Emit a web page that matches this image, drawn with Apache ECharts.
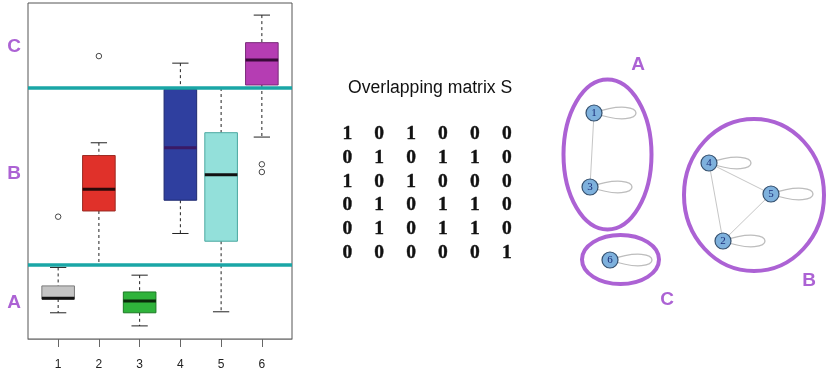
<!DOCTYPE html>
<html>
<head>
<meta charset="utf-8">
<script src="https://cdn.jsdelivr.net/npm/echarts@6/dist/echarts.min.js"></script>
<style>html,body{margin:0;padding:0;background:#fff}#c{width:826px;height:378px}</style>
</head>
<body>
<div id="c"></div>
<script>
// ---- Boxplot panel data ----
const boxCats = [1, 2, 3, 4, 5, 6];
const whiskerLow  = [7.8, 22.0, 3.9, 31.4, 8.1, 60.1];
const q1Vals      = [11.9, 38.1, 7.8, 41.3, 29.1, 75.6];
const medianVals  = [12.1, 44.6, 11.3, 56.9, 48.9, 83.0];
const q3Vals      = [15.8, 54.6, 14.0, 74.3, 61.4, 88.2];
const whiskerHigh = [21.3, 58.4, 19.0, 82.1, 74.7, 96.4];
const outlierCat  = [1, 2, 6, 6];
const outlierVal  = [36.4, 84.2, 52.0, 49.7];
const groupCuts   = [74.7, 22.0];
const groupNames  = ['A', 'B', 'C'];
const groupLabelY = [10.7, 49.1, 86.9];
const xTickLabels = ['1', '2', '3', '4', '5', '6'];

// ---- Overlapping matrix ----
const matrixTitle = 'Overlapping matrix S';
const matrixS = [
  [1, 0, 1, 0, 0, 0],
  [0, 1, 0, 1, 1, 0],
  [1, 0, 1, 0, 0, 0],
  [0, 1, 0, 1, 1, 0],
  [0, 1, 0, 1, 1, 0],
  [0, 0, 0, 0, 0, 1]
];

// ---- Network panel (layout positions of nodes) ----
const nodeNames = ['1', '2', '3', '4', '5', '6'];
const nodeX = [594, 723, 590, 709, 771, 610];
const nodeY = [113, 241, 187, 163, 194, 260];
const clusterNames = ['A', 'B', 'C'];
const clusterCx = [607.5, 754, 620.5];
const clusterCy = [154.5, 195, 259.5];
const clusterRx = [44, 70, 38.5];
const clusterRy = [75, 76, 24.5];
const clusterLabelX = [638, 809, 667];
const clusterLabelY = [65, 281, 300];

// ---- styles ----
const boxFill   = ['#c4c4c4', '#e0312a', '#2fb33b', '#2f3f9f', '#93e0da', '#b53db3'];
const boxBorder = ['#7a7a7a', '#9a2a22', '#1b7a24', '#1f2a70', '#4aa8a0', '#7a2a7a'];
const medianColor = ['#111', '#2a0a0a', '#0a2a0a', '#3a1a66', '#111', '#3a0a3a'];
const purple = '#ac62d4';
const teal = '#1aa6a6';

const boxData = boxCats.map((c, i) => [c, whiskerLow[i], q1Vals[i], medianVals[i], q3Vals[i], whiskerHigh[i]]);
const outData = outlierCat.map((c, i) => [c, outlierVal[i]]);
const matData = [];
matrixS.forEach((row, r) => row.forEach((v, c) => matData.push([c, r, v])));

const links = [];
const loops = [];
matrixS.forEach((row, r) => row.forEach((v, c) => {
  if (!v) return;
  if (r === c) loops.push([nodeX[r], nodeY[r]]);
  else if (c > r) links.push({ source: r, target: c });
}));
const nodes = nodeNames.map((n, i) => ({ name: n, value: [nodeX[i], nodeY[i]] }));
const ellData = clusterCx.map((x, i) => [x, clusterCy[i], clusterRx[i], clusterRy[i]]);
const cLabData = clusterNames.map((n, i) => ({ name: n, value: [clusterLabelX[i], clusterLabelY[i]] }));

function renderBox(params, api) {
  const x = api.value(0);
  const lo = api.coord([x, api.value(1)]);
  const q1 = api.coord([x, api.value(2)]);
  const md = api.coord([x, api.value(3)]);
  const q3 = api.coord([x, api.value(4)]);
  const hi = api.coord([x, api.value(5)]);
  const hw = api.size([0.8, 0])[0] / 2;
  const cx = lo[0];
  const i = params.dataIndex;
  const dash = { stroke: '#222', lineWidth: 1, lineDash: [3, 3] };
  const solid = { stroke: '#222', lineWidth: 1 };
  return {
    type: 'group',
    children: [
      { type: 'line', shape: { x1: cx, y1: hi[1], x2: cx, y2: q3[1] }, style: dash },
      { type: 'line', shape: { x1: cx, y1: q1[1], x2: cx, y2: lo[1] }, style: dash },
      { type: 'line', shape: { x1: cx - hw / 2, y1: hi[1], x2: cx + hw / 2, y2: hi[1] }, style: solid },
      { type: 'line', shape: { x1: cx - hw / 2, y1: lo[1], x2: cx + hw / 2, y2: lo[1] }, style: solid },
      { type: 'rect', shape: { x: cx - hw, y: q3[1], width: 2 * hw, height: q1[1] - q3[1] },
        style: { fill: boxFill[i], stroke: boxBorder[i], lineWidth: 1 } },
      { type: 'line', shape: { x1: cx - hw, y1: md[1], x2: cx + hw, y2: md[1] },
        style: { stroke: medianColor[i], lineWidth: 3 } }
    ]
  };
}

function renderEllipse(params, api) {
  const c = api.coord([api.value(0), api.value(1)]);
  const s = api.size([api.value(2), api.value(3)]);
  return { type: 'ellipse', shape: { cx: c[0], cy: c[1], rx: s[0], ry: s[1] },
    style: { fill: 'none', stroke: purple, lineWidth: 4 } };
}

function renderLoop(params, api) {
  const p = api.coord([api.value(0), api.value(1)]);
  const s = api.size([56, 20]);
  return { type: 'bezierCurve',
    shape: { x1: p[0], y1: p[1], x2: p[0], y2: p[1],
      cpx1: p[0] + s[0], cpy1: p[1] - s[1], cpx2: p[0] + s[0], cpy2: p[1] + s[1] },
    style: { fill: 'none', stroke: '#bdbdbd', lineWidth: 1.3 } };
}

function renderCell(params, api) {
  const p = api.coord([api.value(0), api.value(1)]);
  return { type: 'text', x: p[0], y: p[1] + 1,
    style: { text: String(api.value(2)), x: 0, y: 0, align: 'center', verticalAlign: 'middle',
      fontFamily: 'Liberation Serif', fontWeight: 'bold', fontSize: 19.5,
      fill: '#111', stroke: '#111', lineWidth: 0.4 } };
}

const chart = echarts.init(document.getElementById('c'), null, { renderer: 'canvas' });
chart.setOption({
  animation: false,
  backgroundColor: '#fff',
  title: { text: matrixTitle, left: 343, top: 74,
    textStyle: { fontSize: 17.6, fontWeight: 'normal', color: '#111', fontFamily: 'Liberation Sans' } },
  grid: [
    { left: 28, top: 3, width: 264, height: 336, show: true, borderColor: '#555', borderWidth: 1, backgroundColor: 'transparent' },
    { left: 331.3, top: 121.1, width: 191.4, height: 142.8 },
    { left: 550, top: 0, width: 276, height: 378 }
  ],
  xAxis: [
    { gridIndex: 0, type: 'value', min: 0.26, max: 6.74,
      axisLine: { show: true, lineStyle: { color: '#888', width: 1 } },
      axisTick: { show: true, customValues: boxCats, length: 8, lineStyle: { color: '#666' } },
      axisLabel: { show: true, customValues: boxCats, margin: 20, fontSize: 12, color: '#222',
        fontFamily: 'Liberation Sans', formatter: v => xTickLabels[Math.round(v) - 1] },
      splitLine: { show: false } },
    { gridIndex: 1, type: 'category', data: [0,1,2,3,4,5], show: false },
    { gridIndex: 2, type: 'value', min: 550, max: 826, show: false }
  ],
  yAxis: [
    { gridIndex: 0, type: 'value', min: 0, max: 100,
      axisLine: { show: false }, axisTick: { show: false }, splitLine: { show: false },
      axisLabel: { show: true, customValues: groupLabelY, margin: 7, fontSize: 19, fontWeight: 'bold',
        color: purple, fontFamily: 'Liberation Sans',
        formatter: v => { let b = 0; groupLabelY.forEach((g, k) => { if (Math.abs(g - v) < Math.abs(groupLabelY[b] - v)) b = k; }); return groupNames[b]; } } },
    { gridIndex: 1, type: 'category', data: [0,1,2,3,4,5], inverse: true, show: false },
    { gridIndex: 2, type: 'value', min: 0, max: 378, inverse: true, show: false }
  ],
  series: [
    { type: 'custom', xAxisIndex: 0, yAxisIndex: 0, renderItem: renderBox, data: boxData, z: 2 },
    { type: 'scatter', xAxisIndex: 0, yAxisIndex: 0, data: outData, symbol: 'circle', symbolSize: 5.5,
      itemStyle: { color: '#fff', borderColor: '#333', borderWidth: 0.9, opacity: 1 }, z: 3 },
    { type: 'line', xAxisIndex: 0, yAxisIndex: 0, data: [], z: 5,
      markLine: { silent: true, symbol: 'none', label: { show: false },
        lineStyle: { color: teal, width: 3.5, type: 'solid' },
        data: groupCuts.map(v => ({ yAxis: v })) } },
    { type: 'custom', xAxisIndex: 1, yAxisIndex: 1, renderItem: renderCell, data: matData },
    { type: 'custom', xAxisIndex: 2, yAxisIndex: 2, renderItem: renderEllipse, data: ellData, z: 2 },
    { type: 'custom', xAxisIndex: 2, yAxisIndex: 2, renderItem: renderLoop, data: loops, z: 3 },
    { type: 'graph', coordinateSystem: 'cartesian2d', xAxisIndex: 2, yAxisIndex: 2, layout: 'none',
      data: nodes, links: links, symbolSize: 16, z: 4,
      itemStyle: { color: '#7eb1dd', borderColor: '#35506e', borderWidth: 1.2, opacity: 1 },
      lineStyle: { color: '#c6c6c6', width: 1, opacity: 1, curveness: 0 },
      label: { show: true, position: 'inside', formatter: '{b}', fontFamily: 'Liberation Serif',
        fontSize: 11, color: '#1a2c78' } },
    { type: 'scatter', xAxisIndex: 2, yAxisIndex: 2, data: cLabData, symbolSize: 0,
      itemStyle: { opacity: 1 },
      label: { show: true, position: 'inside', formatter: '{b}', fontSize: 19, fontWeight: 'bold',
        color: purple, fontFamily: 'Liberation Sans' } }
  ]
});
</script>
</body>
</html>
